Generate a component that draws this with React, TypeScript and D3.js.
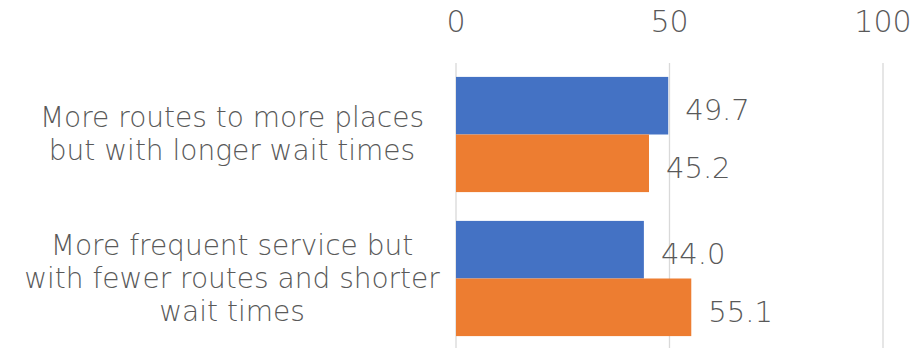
import React from "react";
import * as d3 from "d3";

const categories = [
  "More routes to more places but with longer wait times",
  "More frequent service but with fewer routes and shorter wait times",
];
const categoryLines = [
  ["More routes to more places", "but with longer wait times"],
  ["More frequent service but", "with fewer routes and shorter", "wait times"],
];
const seriesNames = ["Series 1", "Series 2"];
const seriesA = [49.7, 44.0];
const seriesB = [45.2, 55.1];
const tickValues = [0, 50, 100];
const colors = ["#4472C4", "#ED7D31"];

const W = 915;
const H = 348;
const FONT = "'DejaVu Sans', sans-serif";
const TEXT = "#595959";
const WEIGHT = 200;

export default function App() {
  const x = d3.scaleLinear().domain([0, 100]).range([456, 883]);
  const y = d3
    .scaleBand<string>()
    .domain(categories)
    .range([62.5, 350.5])
    .paddingInner(0.2)
    .paddingOuter(0.1);
  const ys = d3
    .scaleBand<string>()
    .domain(seriesNames)
    .range([0, y.bandwidth()])
    .padding(0);
  const seriesValues = [seriesA, seriesB];

  return (
    <svg
      width={W}
      height={H}
      style={{ position: "absolute", left: 0, top: 0, background: "#fff" }}
      fontFamily={FONT}
      fontWeight={WEIGHT}
    >
      {tickValues.map((t) => (
        <g key={t}>
          <line x1={x(t)} x2={x(t)} y1={63} y2={H} stroke="#D9D9D9" strokeWidth={1.3} />
          <text x={x(t)} y={32} textAnchor="middle" fontSize={30} fill={TEXT}>
            {t}
          </text>
        </g>
      ))}
      {categories.map((c, ci) => (
        <g key={c}>
          {seriesNames.map((s, si) => {
            const v = seriesValues[si][ci];
            const y0 = (y(c) as number) + (ys(s) as number);
            const bh = ys.bandwidth();
            return (
              <g key={s}>
                <rect x={x(0)} y={y0} width={x(v) - x(0)} height={bh} fill={colors[si]} />
                <text x={x(v) + 17} y={y0 + bh / 2 + 14.5} fontSize={29} fill={TEXT}>
                  {v.toFixed(1)}
                </text>
              </g>
            );
          })}
          {categoryLines[ci].map((line, li) => {
            const n = categoryLines[ci].length;
            const cy = (y(c) as number) + y.bandwidth() / 2;
            return (
              <text
                key={li}
                x={232}
                y={cy + 9 + (li - (n - 1) / 2) * 33}
                textAnchor="middle"
                fontSize={28}
                fill={TEXT}
              >
                {line}
              </text>
            );
          })}
        </g>
      ))}
    </svg>
  );
}
